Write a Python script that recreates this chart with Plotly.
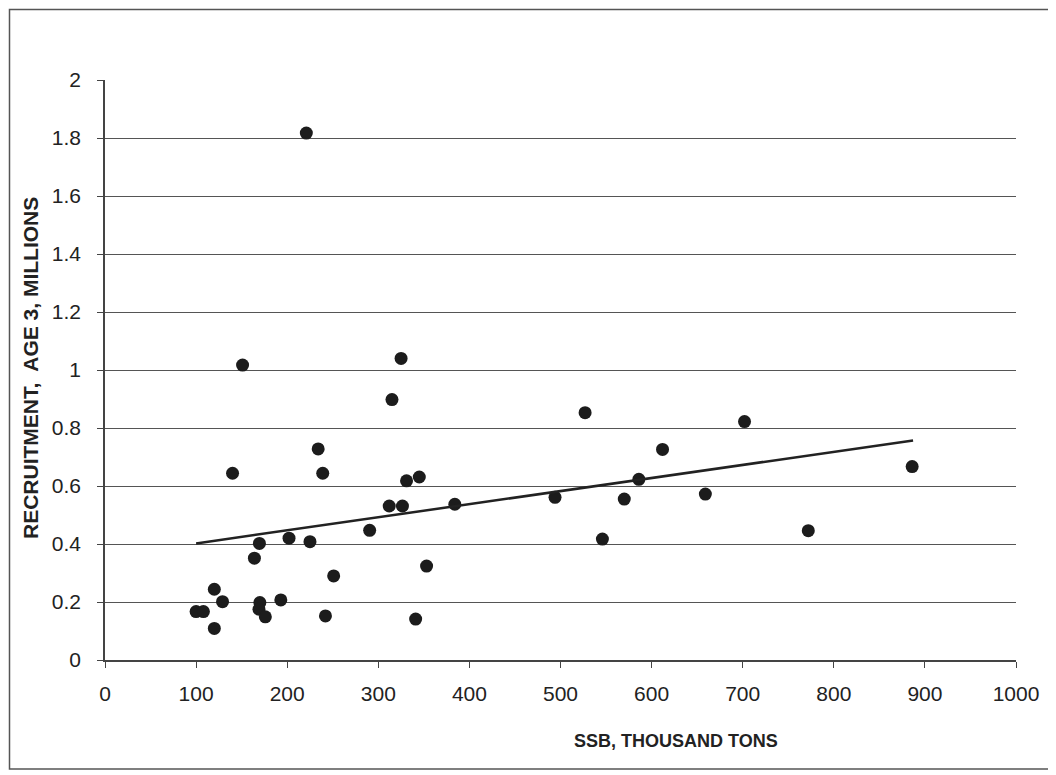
import plotly.graph_objects as go

# ---- data ----
ssb = [100, 108, 120, 120, 129, 140, 151, 164, 169.5, 170, 169, 176, 193, 202,
       221, 225, 234, 239, 242, 251, 290.5, 312, 315, 325, 326.5, 331, 341, 345,
       353, 384, 494, 527, 546, 570, 586, 612, 659, 702, 772, 886]
recruit = [0.167, 0.167, 0.244, 0.109, 0.201, 0.644, 1.017, 0.351, 0.402, 0.198,
           0.175, 0.149, 0.207, 0.420, 1.817, 0.408, 0.728, 0.644, 0.152, 0.290,
           0.447, 0.531, 0.898, 1.040, 0.531, 0.618, 0.141, 0.631, 0.324, 0.537,
           0.561, 0.853, 0.417, 0.555, 0.623, 0.726, 0.572, 0.822, 0.446, 0.667]
trend_ssb = [100, 887]
trend_recruit = [0.402, 0.757]

x_ticks = [0, 100, 200, 300, 400, 500, 600, 700, 800, 900, 1000]
y_ticks = [0, 0.2, 0.4, 0.6, 0.8, 1.0, 1.2, 1.4, 1.6, 1.8, 2.0]
y_tick_labels = ["0", "0.2", "0.4", "0.6", "0.8", "1", "1.2", "1.4", "1.6", "1.8", "2"]

x_title = "SSB, THOUSAND TONS"
y_title = "RECRUITMENT,  AGE 3, MILLIONS"

FONT = "Liberation Sans, Arial, sans-serif"

# page body has an 8px margin, so the figure is offset by 8px
OFF = 8
PL, PR, PT, PB = 105, 1016, 80, 660  # plot area in screenshot pixels
PW, PH = PR - PL, PB - PT


def px(xs):
    return (xs - PL) / PW


def py(ys):
    return (PB - ys) / PH


fig = go.Figure()
fig.add_trace(go.Scatter(
    x=ssb, y=recruit, mode="markers",
    marker=dict(size=13, color="#1c1c1c", line=dict(width=0)),
    showlegend=False, hoverinfo="x+y",
))
fig.add_trace(go.Scatter(
    x=trend_ssb, y=trend_recruit, mode="lines",
    line=dict(color="#222222", width=2.5),
    showlegend=False, hoverinfo="skip",
))

W, H = 1056 - OFF, 775 - OFF
fig.update_layout(
    width=W, height=H,
    margin=dict(l=PL - OFF, r=W - (PR - OFF), t=PT - OFF, b=H - (PB - OFF)),
    paper_bgcolor="white", plot_bgcolor="white",
    font=dict(family=FONT, color="#2a2a2a"),
    xaxis=dict(
        range=[0, 1000], tickvals=x_ticks, ticktext=[str(v) for v in x_ticks],
        showgrid=False, zeroline=False,
        showline=True, linecolor="#444444", linewidth=1.5,
        ticks="outside", ticklen=6, tickcolor="#444444", tickwidth=1.2,
        tickfont=dict(size=21, family=FONT, color="#222222"),
        ticklabelstandoff=8,
    ),
    yaxis=dict(
        range=[0, 2], tickvals=y_ticks, ticktext=y_tick_labels,
        showgrid=True, gridcolor="#555555", gridwidth=1.3,
        zeroline=False,
        showline=True, linecolor="#444444", linewidth=1.5,
        ticks="outside", ticklen=6, tickcolor="#444444", tickwidth=1.2,
        tickfont=dict(size=21, family=FONT, color="#222222"),
        ticklabelstandoff=12,
    ),
    annotations=[
        dict(text="<b>" + x_title + "</b>", xref="paper", yref="paper",
             x=px(676), y=py(741),
             xanchor="center", yanchor="middle", showarrow=False,
             font=dict(size=18, family=FONT, color="#222222")),
        dict(text="<b>" + y_title + "</b>", xref="paper", yref="paper",
             x=px(30), y=py(368), textangle=-90,
             xanchor="center", yanchor="middle", showarrow=False,
             font=dict(size=21, family=FONT, color="#222222")),
    ],
    shapes=[
        dict(type="rect", xref="paper", yref="paper",
             x0=px(9.5), x1=px(1051), y0=py(769), y1=py(9.5),
             line=dict(color="#555555", width=1.5), fillcolor="rgba(0,0,0,0)",
             layer="below"),
    ],
)

fig.write_html("out.html")
